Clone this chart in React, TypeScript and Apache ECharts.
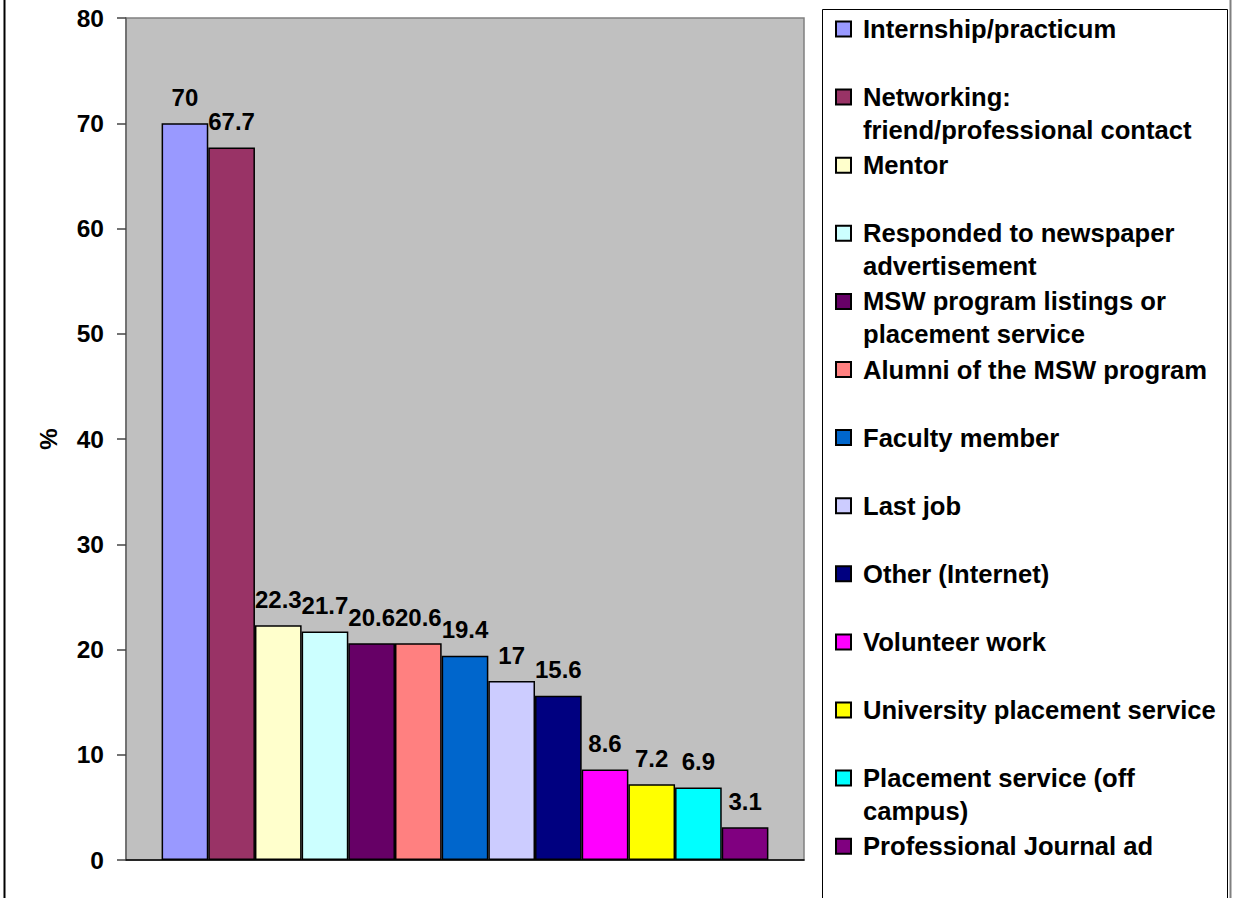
import React, { useEffect, useRef } from "react";
import * as echarts from "echarts";

// Where respondents found their current job (% of respondents)
const sources: string[] = [
  "Internship/practicum",
  "Networking:\nfriend/professional contact",
  "Mentor",
  "Responded to newspaper\nadvertisement",
  "MSW program listings or\nplacement service",
  "Alumni of the MSW program",
  "Faculty member",
  "Last job",
  "Other (Internet)",
  "Volunteer work",
  "University placement service",
  "Placement service (off\ncampus)",
  "Professional Journal ad",
];

const percents: number[] = [70, 67.7, 22.3, 21.7, 20.6, 20.6, 19.4, 17, 15.6, 8.6, 7.2, 6.9, 3.1];

const barColors: string[] = [
  "#9999FF",
  "#993366",
  "#FFFFCC",
  "#CCFFFF",
  "#660066",
  "#FF8080",
  "#0066CC",
  "#CCCCFF",
  "#000080",
  "#FF00FF",
  "#FFFF00",
  "#00FFFF",
  "#800080",
];

const yTicks = { min: 0, max: 80, step: 10 };

const FONT = '"Liberation Sans", Arial, sans-serif';

export default function App() {
  const ref = useRef<HTMLDivElement>(null);

  useEffect(() => {
    if (!ref.current) return;
    const chart = echarts.init(ref.current, null, { renderer: "svg" });

    const LINE_H = 33;
    const firstLineTop = 29;
    const slot = 68.1;

    // One legend per entry so that every entry sits in an even slot, with its
    // swatch level with the first line of a wrapped name.
    const legends = sources.map((name, i) => {
      const twoLines = name.includes("\n");
      const center = firstLineTop + slot * i;
      return {
        data: [name],
        orient: "vertical",
        left: 835,
        top: center - (twoLines ? LINE_H * 1.5 : LINE_H / 2),
        padding: 0,
        itemWidth: 15,
        itemHeight: 15,
        icon: "rect",
        selectedMode: false,
        formatter: (n: string) => (n.includes("\n") ? "\n" + n : n),
        textStyle: {
          fontFamily: FONT,
          fontWeight: "bold",
          fontSize: 25.6,
          lineHeight: LINE_H,
          color: "#000",
          padding: [0, 0, 0, 7],
        },
      };
    });

    chart.setOption({
      animation: false,
      backgroundColor: "#fff",
      textStyle: { fontFamily: FONT },
      graphic: [
        {
          type: "line",
          shape: { x1: 4.5, y1: 0, x2: 4.5, y2: 898 },
          style: { stroke: "#000", lineWidth: 2 },
        },
        {
          type: "line",
          shape: { x1: 1230.5, y1: 0, x2: 1230.5, y2: 898 },
          style: { stroke: "#808080", lineWidth: 2 },
        },
        {
          type: "rect",
          shape: { x: 822.5, y: 9.5, width: 405, height: 900 },
          style: { fill: "#fff", stroke: "#000", lineWidth: 1 },
        },
      ],
      legend: legends,
      grid: {
        left: 126,
        right: 429,
        top: 18,
        bottom: 38,
        show: true,
        backgroundColor: "#C0C0C0",
        borderColor: "#808080",
        borderWidth: 1.5,
      },
      xAxis: {
        type: "category",
        data: [""],
        axisTick: { show: false },
        axisLabel: { show: false },
        axisLine: { show: true, lineStyle: { color: "#000", width: 1.5 } },
        splitLine: { show: false },
      },
      yAxis: {
        type: "value",
        min: yTicks.min,
        max: yTicks.max,
        interval: yTicks.step,
        name: "%",
        nameLocation: "middle",
        nameRotate: 90,
        nameGap: 66,
        nameTextStyle: { fontFamily: FONT, fontWeight: "bold", fontSize: 24, color: "#000" },
        axisLine: { show: true, lineStyle: { color: "#666", width: 1.5 } },
        axisTick: { show: true, length: 9, lineStyle: { color: "#444", width: 1.5 } },
        axisLabel: {
          margin: 22,
          fontFamily: FONT,
          fontWeight: "bold",
          fontSize: 24.5,
          color: "#000",
        },
        splitLine: { show: false },
      },
      series: sources.map((name, i) => ({
        type: "bar",
        name,
        data: [percents[i]],
        barGap: "0%",
        barCategoryGap: "10.5%",
        itemStyle: { color: barColors[i], borderColor: "#000", borderWidth: 1.5 },
        label: {
          show: true,
          position: "top",
          distance: 14,
          fontFamily: FONT,
          fontWeight: "bold",
          fontSize: 24,
          color: "#000",
        },
      })),
    });

    return () => chart.dispose();
  }, []);

  return (
    <div
      ref={ref}
      style={{ position: "absolute", left: 0, top: 0, width: 1233, height: 898 }}
    />
  );
}
